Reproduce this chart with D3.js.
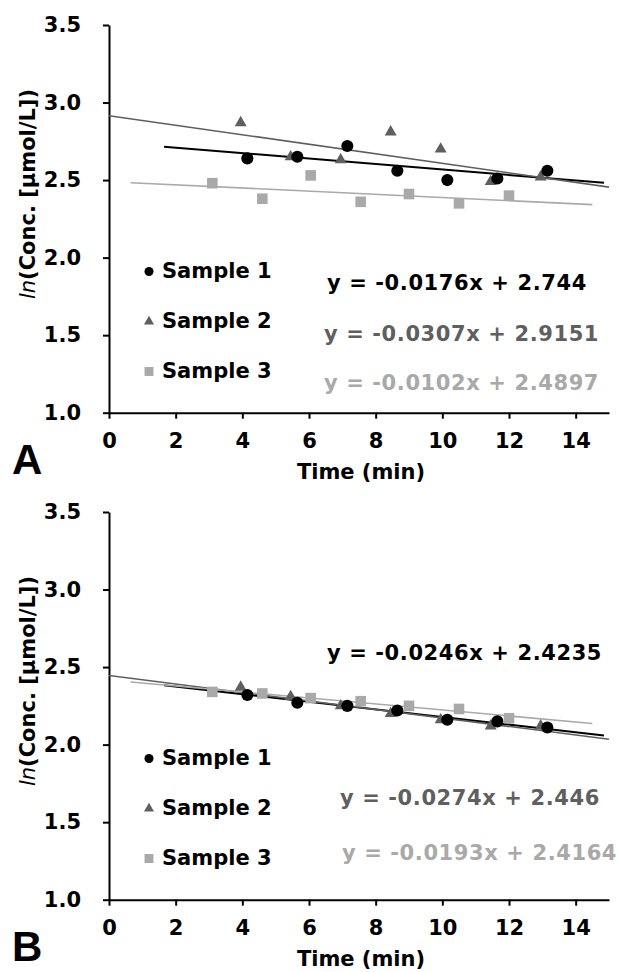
<!DOCTYPE html>
<html>
<meta charset="utf-8">
<style>
    body { margin: 0; background: #fff; }
    svg { display: block; }
    text { font-family: "DejaVu Sans", Verdana, sans-serif; font-weight: bold; font-size: 21px; }
    .axis path, .axis line { stroke: #000; stroke-width: 2px; }
    .axis text { fill: #000; font-size: 21px; }
</style>
<body>
<script src="https://d3js.org/d3.v7.min.js"></script>
<div id="chart"></div>
<script>
// tick labels and legend
var xTicks = [0, 2, 4, 6, 8, 10, 12, 14];
var yTicks = [1.0, 1.5, 2.0, 2.5, 3.0, 3.5];
var sampleNames = ["Sample 1", "Sample 2", "Sample 3"];

// sampling times (min)
var time1 = [4.15, 5.65, 7.15, 8.65, 10.15, 11.65, 13.15];
var time2 = [3.95, 5.45, 6.95, 8.45, 9.95, 11.45, 12.95];
var time3 = [3.1, 4.6, 6.05, 7.55, 9.0, 10.5, 12.0];

// panel A values
var a1 = [2.64, 2.65, 2.72, 2.56, 2.50, 2.51, 2.56];
var a2 = [2.87, 2.65, 2.63, 2.81, 2.70, 2.49, 2.52];
var a3 = [2.48, 2.38, 2.53, 2.36, 2.41, 2.35, 2.40];
// panel B values
var b1 = [2.32, 2.27, 2.25, 2.22, 2.16, 2.15, 2.11];
var b2 = [2.37, 2.31, 2.25, 2.20, 2.16, 2.12, 2.12];
var b3 = [2.34, 2.33, 2.30, 2.28, 2.25, 2.23, 2.17];

// linear trendlines
var slopeA = [-0.0176, -0.0307, -0.0102];
var interceptA = [2.744, 2.9151, 2.4897];
var slopeB = [-0.0246, -0.0274, -0.0193];
var interceptB = [2.4235, 2.446, 2.4164];
var fitFrom = [1.65, 0, 0.65];
var fitTo = [14.85, 15, 14.5];
var eqA = ["y = -0.0176x + 2.744", "y = -0.0307x + 2.9151", "y = -0.0102x + 2.4897"];
var eqB = ["y = -0.0246x + 2.4235", "y = -0.0274x + 2.446", "y = -0.0193x + 2.4164"];

var colors = ["#000000", "#5f5f5f", "#a9a9a9"];
var lineWidths = [2, 1.6, 1.6];
var shapes = [d3.symbolCircle, d3.symbolTriangle, d3.symbolSquare];
var markSize = [115, 62, 112];
var legendSize = [64, 44, 80];

var svg = d3.select("#chart").append("svg")
    .attr("width", 619).attr("height", 972);

var x = d3.scaleLinear().domain([0, 15]).range([109, 609]);
var y = d3.scaleLinear().domain([1, 3.5]).range([412.7, 25]);

var drawPanel = function(top, values, slopes, intercepts, eqs, eqPos, letter) {
    var g = svg.append("g").attr("transform", "translate(0," + top + ")");
    var times = [time1, time2, time3];

    g.append("g").attr("class", "axis")
        .attr("transform", "translate(0," + y(1) + ")")
        .call(d3.axisBottom(x).tickValues(xTicks).tickSize(6).tickSizeOuter(0).tickPadding(14));
    g.append("g").attr("class", "axis")
        .attr("transform", "translate(" + x(0) + ",0)")
        .call(d3.axisLeft(y).tickValues(yTicks).tickFormat(d3.format(".1f"))
            .tickSize(6).tickSizeOuter(0).tickPadding(22));

    // trendlines
    for (var i = 0; i < 3; i++) {
        var ends = [fitFrom[i], fitTo[i]];
        g.append("line")
            .attr("x1", x(ends[0])).attr("y1", y(slopes[i] * ends[0] + intercepts[i]))
            .attr("x2", x(ends[1])).attr("y2", y(slopes[i] * ends[1] + intercepts[i]))
            .attr("stroke", colors[i]).attr("stroke-width", lineWidths[i]);
    }

    // markers: triangles, circles, then squares
    [1, 0, 2].forEach(function(i) {
        g.selectAll(null)
            .data(values[i])
            .enter()
            .append("path")
            .attr("d", d3.symbol().type(shapes[i]).size(markSize[i]))
            .attr("transform", function(d, j) {
                return "translate(" + x(times[i][j]) + "," + y(d) + ")";
            })
            .attr("fill", colors[i]);
    });

    // legend
    sampleNames.forEach(function(name, i) {
        g.append("path")
            .attr("d", d3.symbol().type(shapes[i]).size(legendSize[i]))
            .attr("transform", "translate(149," + (271.5 + i * 50) + ")")
            .attr("fill", colors[i]);
        g.append("text").attr("x", 162).attr("y", 277.5 + i * 50).text(name);
    });

    // trendline equations
    eqs.forEach(function(e, i) {
        g.append("text")
            .attr("x", eqPos[i][0]).attr("y", eqPos[i][1])
            .attr("fill", colors[i])
            .style("letter-spacing", "0.6px")
            .text(e);
    });

    g.append("text")
        .attr("x", 361).attr("y", 479)
        .attr("text-anchor", "middle")
        .text("Time (min)");

    var yl = g.append("text")
        .attr("transform", "translate(35,194) rotate(-90)")
        .attr("text-anchor", "middle");
    yl.append("tspan").style("font-style", "italic").style("font-weight", "normal").text("ln");
    yl.append("tspan").text("(Conc. [µmol/L])");

    g.append("text")
        .attr("x", 12).attr("y", 474)
        .style("font-size", "42px")
        .style("font-family", "'Liberation Sans', Arial, sans-serif")
        .text(letter);
};

drawPanel(0, [a1, a2, a3], slopeA, interceptA, eqA, [[327, 290], [324, 341], [324, 390]], "A");
drawPanel(487, [b1, b2, b3], slopeB, interceptB, eqB, [[327, 173], [340, 318], [342, 373]], "B");
</script>
</body>
</html>
